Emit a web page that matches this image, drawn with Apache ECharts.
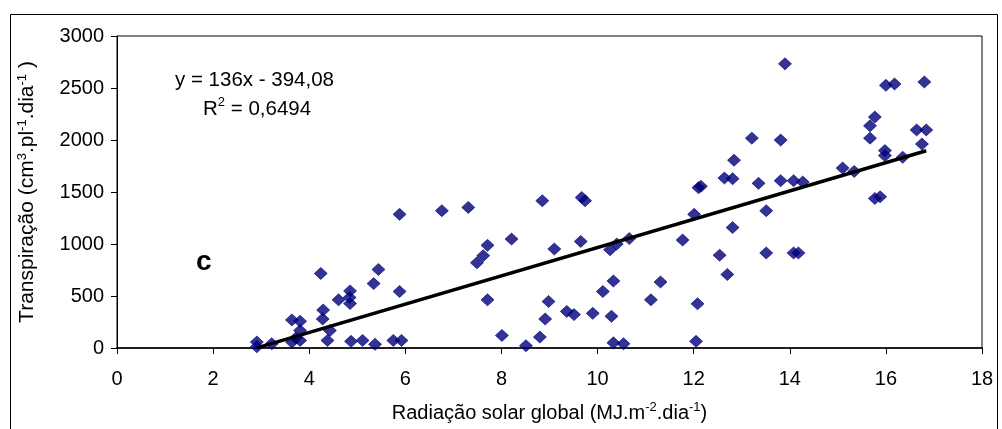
<!DOCTYPE html>
<html>
<head>
<meta charset="utf-8">
<script src="https://cdn.jsdelivr.net/npm/echarts@6/dist/echarts.min.js"></script>
<style>
  html, body { margin: 0; padding: 0; background: #fff; }
  #main { width: 1002px; height: 429px; }
</style>
</head>
<body>
<div id="main"></div>
<script>
(function () {

  // radiação solar global (MJ.m-2.dia-1)
  var radiacao = [
    2.91, 2.91, 3.22, 3.64, 3.81, 3.81, 3.64, 3.81, 3.72,
    4.24, 4.29, 4.28, 4.43, 4.38, 4.61, 4.85, 4.84, 4.85, 4.87,
    5.11, 5.37, 5.34, 5.44, 5.88, 5.88, 5.75, 5.92,
    6.76, 7.31, 7.49, 7.62, 7.71, 7.71, 8.21, 8.01, 8.51, 8.80,
    8.85, 8.91, 8.98, 9.10, 9.36, 9.51, 9.65, 9.67, 9.74, 9.90,
    10.11, 10.33, 10.29, 10.26, 10.40, 10.33, 10.54, 10.66,
    11.11, 11.31, 11.77, 12.05, 12.08, 12.01, 12.10, 12.15,
    12.54, 12.70, 12.81, 12.64, 12.81, 12.84, 13.21, 13.35, 13.51, 13.51,
    13.81, 13.81, 13.90, 14.08, 14.27, 14.08, 14.18,
    15.10, 15.34, 15.77, 15.88, 15.67, 15.67, 15.77, 15.98, 15.98,
    16.00, 16.18, 16.35, 16.80, 16.64, 16.84, 16.75
  ];
  // transpiração (cm3.pl-1.dia-1)
  var transpiracao = [
    57, 12, 41, 270, 257, 168, 57, 73, 95,
    717, 365, 279, 168, 73, 463, 549, 485, 428, 64,
    73, 35, 619, 755, 543, 1285, 73, 73,
    1320, 1352, 819, 888, 987, 463, 1047, 121, 22, 105,
    1416, 279, 447, 952, 352, 321, 1025, 1447, 1416, 333,
    543, 644, 305, 945, 1000, 50, 41, 1052,
    463, 635, 1038, 64, 425, 1285, 1542, 1555,
    892, 707, 1158, 1634, 1628, 1806, 2018, 1583, 1320, 914,
    1999, 1609, 2732, 1609, 1596, 914, 914,
    1730, 1698, 1438, 1454, 2018, 2136, 2221, 1898, 1850,
    2526, 2539, 1834, 2558, 2097, 2097, 1961
  ];

  // linha de tendência: y = 136x - 394,08
  var slope = 136;
  var intercept = -394.08;
  var xTicks = [0, 2, 4, 6, 8, 10, 12, 14, 16, 18];
  var yTicks = [0, 500, 1000, 1500, 2000, 2500, 3000];

  var pontos = radiacao.map(function (x, i) { return [x, transpiracao[i]]; });
  var xMin = Math.min.apply(null, radiacao);
  var xMax = Math.max.apply(null, radiacao);
  var tendencia = [[xMin, slope * xMin + intercept], [xMax, slope * xMax + intercept]];

  var font = 'Liberation Sans, Arial, sans-serif';
  var myChart = echarts.init(document.getElementById('main'));

  var option = {
    backgroundColor: '#fff',
    animation: false,
    grid: {
      left: 117, right: 20, top: 36, bottom: 78,
      show: true, borderColor: '#000', borderWidth: 1
    },
    xAxis: {
      type: 'value',
      min: xTicks[0], max: xTicks[xTicks.length - 1], interval: 2,
      splitLine: { show: false },
      axisLine: { lineStyle: { color: '#000', width: 1.5 } },
      axisTick: { inside: false, length: 6, lineStyle: { color: '#000' } },
      axisLabel: { color: '#000', fontSize: 20, fontFamily: font, margin: 21 },
      name: '{n|Radiação solar global (MJ.m}{s|-2}{n|.dia}{s|-1}{n|)}',
      nameLocation: 'middle',
      nameGap: 53,
      nameTextStyle: {
        rich: {
          n: { fontSize: 20, fontFamily: font, color: '#000', verticalAlign: 'bottom', lineHeight: 22 },
          s: { fontSize: 13, fontFamily: font, color: '#000', verticalAlign: 'top', lineHeight: 22, padding: [0, 0, 10, 0] }
        }
      }
    },
    yAxis: {
      type: 'value',
      min: yTicks[0], max: yTicks[yTicks.length - 1], interval: 500,
      splitLine: { show: false },
      axisLine: { show: true, lineStyle: { color: '#000', width: 1 } },
      axisTick: { show: true, inside: false, length: 6, lineStyle: { color: '#000' } },
      axisLabel: {
        color: '#000', fontSize: 20, fontFamily: font, margin: 13,
        formatter: function (v) { return String(v); }
      },
      name: '{n|Transpiração (cm}{s|3}{n|.pl}{s|-1}{n|.dia}{s|-1}{n| )}',
      nameLocation: 'middle',
      nameGap: 79,
      nameRotate: 90,
      nameTextStyle: {
        rich: {
          n: { fontSize: 21, fontFamily: font, color: '#000', verticalAlign: 'bottom', lineHeight: 22 },
          s: { fontSize: 13, fontFamily: font, color: '#000', verticalAlign: 'top', lineHeight: 22, padding: [0, 0, 10, 0] }
        }
      }
    },
    graphic: [
      {
        type: 'rect', left: 8, top: 12, z: -1, silent: true,
        shape: { width: 987, height: 416 },
        style: { fill: 'none', stroke: '#000', lineWidth: 1 }
      },
      {
        type: 'text', left: 175, top: 70,
        style: { text: 'y = 136x - 394,08', font: '20.5px ' + font, fill: '#000' }
      },
      {
        type: 'text', left: 203, top: 96,
        style: {
          text: '{n|R}{s|2}{n| = 0,6494}',
          rich: {
            n: { font: '20.5px ' + font, fill: '#000', verticalAlign: 'bottom', lineHeight: 24 },
            s: { font: '13px ' + font, fill: '#000', verticalAlign: 'top', lineHeight: 24, padding: [0, 0, 10, 0] }
          }
        }
      },
      {
        type: 'text', left: 196, top: 248,
        style: { text: 'c', font: 'bold 28px ' + font, fill: '#000' }
      }
    ],
    series: [
      {
        type: 'scatter',
        data: pontos,
        symbol: 'diamond',
        symbolSize: [13, 12],
        itemStyle: { color: '#00007a', borderColor: '#00007a', borderWidth: 0.8 },
        z: 2
      },
      {
        type: 'line',
        data: tendencia,
        symbol: 'none',
        lineStyle: { color: '#000', width: 3.5 },
        z: 3
      }
    ]
  };

  myChart.setOption(option);
})();
</script>
</body>
</html>
